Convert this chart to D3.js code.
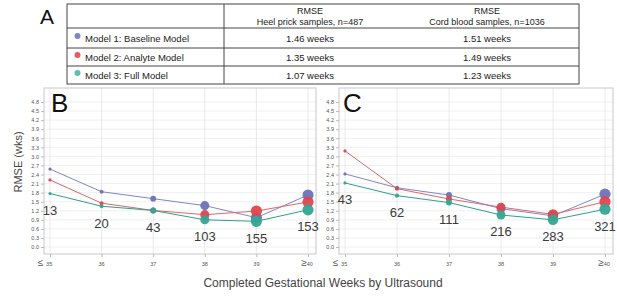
<!DOCTYPE html>
<html><head><meta charset="utf-8">
<script src="https://cdn.jsdelivr.net/npm/d3@7"></script>
<style>body{margin:0;background:#fff}svg{display:block;font-family:"Liberation Sans",Arial,sans-serif}</style>
</head><body><svg id="c" width="617" height="298"></svg>
<script>
const categories = ["≤35","36","37","38","39","≥40"];
const modelNames = ["Model 1: Baseline Model","Model 2: Analyte Model","Model 3: Full Model"];
const heelRMSE = ["1.46 weeks","1.35 weeks","1.07 weeks"];
const cordRMSE = ["1.51 weeks","1.49 weeks","1.23 weeks"];
const headers = [["RMSE","Heel prick samples, n=487"],["RMSE","Cord blood samples, n=1036"]];
const yTicks = [0,0.3,0.6,0.9,1.2,1.5,1.8,2.1,2.4,2.7,3.0,3.3,3.6,3.9,4.2,4.5,4.8];
// Panel B (heel prick)
const heelModel1 = [2.58,1.83,1.60,1.37,0.97,1.72];
const heelModel2 = [2.22,1.45,1.21,1.07,1.19,1.49];
const heelModel3 = [1.77,1.35,1.21,0.90,0.85,1.23];
const heelCounts = [13,20,43,103,155,153];
// Panel C (cord blood)
const cordModel1 = [2.42,1.96,1.72,1.27,1.03,1.75];
const cordModel2 = [3.18,1.93,1.59,1.32,1.08,1.50];
const cordModel3 = [2.12,1.70,1.47,1.06,0.90,1.25];
const cordCounts = [43,62,111,216,283,321];

const lineColors = ["#7f86c2","#d9686b","#2f9e8c"];
const dotColors = ["#6b73b8","#e0464d","#35a594"];
const legendColors = ["#7c86c8","#ea5a5c","#5cbfb1"];

const svg = d3.select("#c");

// ---- Table A ----
svg.append("text").attr("x",40).attr("y",24).attr("font-size",21).attr("fill","#111").text("A");
const rowY = [4,28,48,66,84];
const tg = svg.append("g");
tg.append("rect").attr("x",67).attr("y",4).attr("width",512).attr("height",80).attr("fill","none").attr("stroke","#444");
rowY.slice(1,4).forEach(y=>tg.append("line").attr("x1",67).attr("x2",579).attr("y1",y).attr("y2",y).attr("stroke","#444"));
tg.append("line").attr("x1",224).attr("x2",224).attr("y1",4).attr("y2",84).attr("stroke","#444");
headers.forEach((h,i)=>{
  const cx = [310,487][i];
  tg.append("text").attr("x",cx).attr("y",14).attr("text-anchor","middle").attr("font-size",9).attr("fill","#222").text(h[0]);
  tg.append("text").attr("x",cx).attr("y",25).attr("text-anchor","middle").attr("font-size",9).attr("fill","#222").text(h[1]);
});
modelNames.forEach((m,i)=>{
  const yc = (rowY[i+1]+rowY[i+2])/2;
  tg.append("circle").attr("cx",77.5).attr("cy",yc-2).attr("r",3).attr("fill",legendColors[i]);
  tg.append("text").attr("x",85).attr("y",yc+3.5).attr("font-size",9.5).attr("fill","#222").text(m);
  tg.append("text").attr("x",310).attr("y",yc+3.5).attr("text-anchor","middle").attr("font-size",9.5).attr("fill","#222").text(heelRMSE[i]);
  tg.append("text").attr("x",487).attr("y",yc+3.5).attr("text-anchor","middle").attr("font-size",9.5).attr("fill","#222").text(cordRMSE[i]);
});

// ---- panels ----
function panel(letter, x0, x1, models, counts){
  const top=88, bottom=254;
  const g = svg.append("g");
  const x = d3.scalePoint().domain(categories).range([x0+6, x1-8]);
  const y = d3.scaleLinear().domain([0,4.8]).range([247,102]);
  g.append("rect").attr("x",x0).attr("y",top).attr("width",x1-x0).attr("height",bottom-top).attr("fill","#fff");
  g.selectAll(".hg").data(yTicks).join("line").attr("x1",x0).attr("x2",x1).attr("y1",d=>y(d)).attr("y2",d=>y(d)).attr("stroke","#ececec").attr("stroke-width",0.8);
  g.selectAll(".vg").data(categories).join("line").attr("x1",d=>x(d)).attr("x2",d=>x(d)).attr("y1",top).attr("y2",bottom).attr("stroke","#e4e4e4").attr("stroke-width",0.8);
  g.append("rect").attr("x",x0).attr("y",top).attr("width",x1-x0).attr("height",bottom-top).attr("fill","none").attr("stroke","#c8c8c8");
  const ya = d3.axisLeft(y).tickValues(yTicks).tickFormat(d3.format(".1f")).tickSize(3).tickPadding(2);
  const yg = g.append("g").attr("transform",`translate(${x0},0)`).call(ya);
  yg.select(".domain").remove();
  yg.selectAll("line").attr("stroke","#bbb");
  yg.selectAll("text").attr("font-size",5.5).attr("fill","#555");
  const xa = d3.axisBottom(x).tickSize(3).tickFormat(()=>"");
  const xg = g.append("g").attr("transform",`translate(0,${bottom})`).call(xa);
  xg.select(".domain").remove();
  xg.selectAll("line").attr("stroke","#bbb");
  categories.forEach(c=>{
    const t = g.append("text").attr("x",x(c)).attr("y",266).attr("text-anchor","middle").attr("fill","#555");
    if(c[0]==="≤"||c[0]==="≥"){
      t.attr("dx", c[0]==="≤" ? -5 : -1);
      t.append("tspan").attr("font-size",10).text(c[0] + (c[0]==="≤"?" ":""));
      t.append("tspan").attr("font-size",5.5).text(c.slice(1));
    } else {
      t.attr("font-size",5.5).text(c);
    }
  });
  g.append("text").attr("x",x0+ (letter==="B"?7:4)).attr("y",112).attr("font-size",26).attr("fill","#111").text(letter);
  const r = d3.scaleSqrt().domain(d3.extent(counts)).range([1.6,5.6]);
  const line = d3.line().x((d,i)=>x(categories[i])).y(d=>y(d));
  models.forEach((vals,mi)=>{
    g.append("path").datum(vals).attr("d",line).attr("fill","none").attr("stroke",lineColors[mi]).attr("stroke-width",1);
  });
  models.forEach((vals,mi)=>{
    g.selectAll(null).data(vals).join("circle")
      .attr("cx",(d,i)=>x(categories[i])).attr("cy",d=>y(d))
      .attr("r",(d,i)=>r(counts[i])).attr("fill",dotColors[mi]).attr("fill-opacity",0.95);
  });
  counts.forEach((n,i)=>{
    const mn = d3.min(models, m=>m[i]);
    g.append("text").attr("x",x(categories[i])).attr("y",y(mn-0.56)).attr("dy","0.35em")
      .attr("text-anchor","middle").attr("font-size",13).attr("fill","#3a3a3a").text(n);
  });
}
panel("B",44,316,[heelModel1,heelModel2,heelModel3],heelCounts);
panel("C",339,613,[cordModel1,cordModel2,cordModel3],cordCounts);

svg.append("text").attr("transform","translate(22,162) rotate(-90)").attr("text-anchor","middle")
  .attr("font-size",11).attr("fill","#444").text("RMSE (wks)");
svg.append("text").attr("x",323).attr("y",287).attr("text-anchor","middle")
  .attr("font-size",12).attr("fill","#444").text("Completed Gestational Weeks by Ultrasound");
</script></body></html>
